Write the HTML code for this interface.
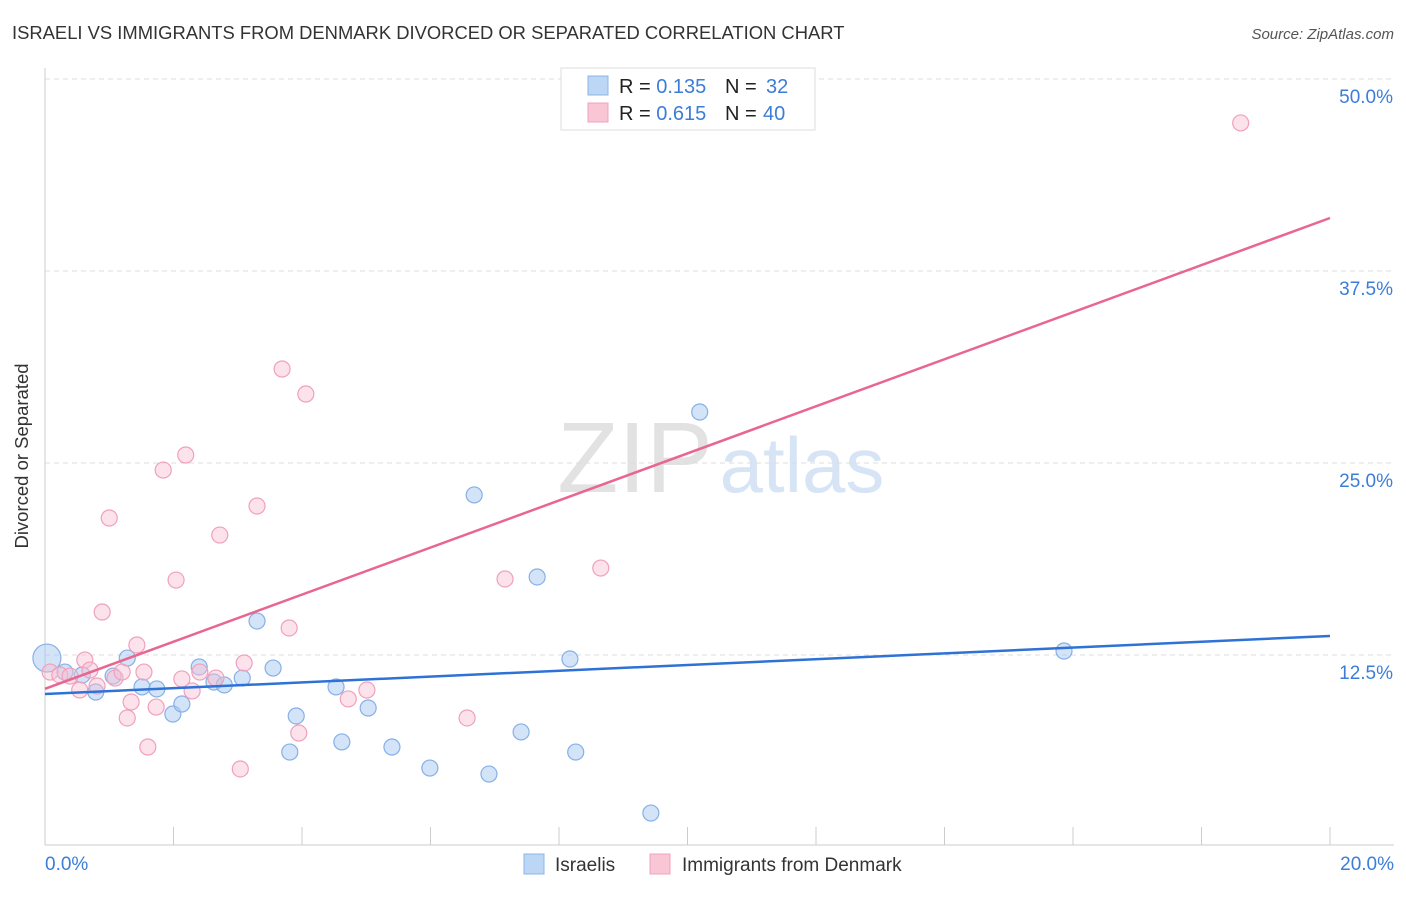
<!DOCTYPE html>
<html><head><meta charset="utf-8"><style>
body{margin:0;background:#fff;font-family:"Liberation Sans",sans-serif;}
svg text{font-family:"Liberation Sans",sans-serif;}
</style></head><body>
<svg id="chart" width="1406" height="892">
<text x="12" y="39" font-size="18.4" fill="#333">ISRAELI VS IMMIGRANTS FROM DENMARK DIVORCED OR SEPARATED CORRELATION CHART</text>
<text x="1394" y="39" font-size="15" fill="#555" font-style="italic" text-anchor="end">Source: ZipAtlas.com</text>
<text x="28" y="456" font-size="18.5" fill="#333" text-anchor="middle" transform="rotate(-90 28 456)">Divorced or Separated</text>
<g><text x="635" y="492" font-size="100" fill="#e2e2e2" font-family="Liberation Serif" text-anchor="middle">ZIP</text><text x="802" y="492" font-size="78" fill="#d6e4f5" text-anchor="middle">atlas</text></g>
<g id="grid"></g><g id="axes"></g><g id="marks"></g>
<g>
<rect x="561" y="68" width="254" height="62" fill="#fff" stroke="#ddd"/>
<rect x="588" y="76" width="20" height="19" fill="#bcd6f5" stroke="#8db5e8"/>
<rect x="588" y="103" width="20" height="19" fill="#f9c6d6" stroke="#f0a0bc"/>
<text x="619" y="93" font-size="20" fill="#222">R = <tspan fill="#3b7dd8">0.135</tspan><tspan x="725">N = </tspan><tspan x="766" fill="#3b7dd8">32</tspan></text>
<text x="619" y="120" font-size="20" fill="#222">R = <tspan fill="#3b7dd8">0.615</tspan><tspan x="725">N = </tspan><tspan x="763" fill="#3b7dd8">40</tspan></text>
</g>
<g>
<rect x="524" y="854" width="20" height="20" fill="#bcd6f5" stroke="#8db5e8"/>
<text x="555" y="871" font-size="19" fill="#333">Israelis</text>
<rect x="650" y="854" width="20" height="20" fill="#f9c6d6" stroke="#f0a0bc"/>
<text x="682" y="871" font-size="19" fill="#333">Immigrants from Denmark</text>
</g>
</svg>
<script>
const yTicks=[12.5,25,37.5,50];
const yTickLabels=["12.5%","25.0%","37.5%","50.0%"];
const blueX=[0.03,0.31,0.58,0.79,1.06,1.28,1.51,1.74,1.99,2.13,2.40,2.63,2.79,3.07,3.30,3.55,3.81,3.91,4.53,4.62,5.03,5.40,5.99,6.68,6.91,7.41,7.66,8.17,8.26,9.43,10.19,15.86];
const blueY=[12.3,11.39,11.2,10.09,11.13,12.3,10.42,10.29,8.66,9.31,11.72,10.74,10.55,11.0,14.71,11.65,6.18,8.53,10.42,6.84,9.05,6.51,5.14,22.92,4.75,7.49,17.58,12.24,6.18,2.21,28.32,12.76];
const pinkX=[0.08,0.23,0.39,0.54,0.62,0.70,0.81,0.89,1.00,1.09,1.20,1.28,1.34,1.43,1.54,1.60,1.73,1.84,2.04,2.13,2.19,2.29,2.41,2.66,2.72,3.04,3.10,3.30,3.69,3.80,3.95,4.06,4.72,5.01,6.57,7.16,8.65,18.61];
const pinkY=[11.39,11.2,11.13,10.22,12.17,11.52,10.48,15.30,21.42,11.0,11.39,8.40,9.44,13.15,11.39,6.51,9.11,24.54,17.38,10.94,25.52,10.16,11.39,11.0,20.31,5.08,11.98,22.2,31.12,14.26,7.42,29.49,9.64,10.22,8.40,17.45,18.16,47.14];
const blueLine=[9.96,13.74];
const pinkLine=[10.3,40.95];
const NS="http://www.w3.org/2000/svg";
const X=v=>45+v*64.25, Y=v=>847-v*15.36;
function mk(tag,attrs,parent){const e=document.createElementNS(NS,tag);for(const k in attrs)e.setAttribute(k,attrs[k]);document.getElementById(parent).appendChild(e);return e;}
yTicks.forEach((t,i)=>{
 const g=mk('line',{x1:45,x2:1394,y1:Y(t),y2:Y(t),stroke:'#ddd','stroke-dasharray':'5,4'},'grid');
 
 
 const l=mk('text',{x:1393,y:Y(t)+24,'font-size':19,fill:'#3b7dd8','text-anchor':'end'},'grid');
 l.textContent=yTickLabels[i];
 
 
});
let ax=mk('line',{x1:45,x2:45,y1:68,y2:845,stroke:'#ccc'},'axes');


ax=mk('line',{x1:45,x2:1394,y1:845,y2:845,stroke:'#ccc'},'axes');


for(let i=0;i<=10;i++){const t=mk('line',{x1:X(i*2),x2:X(i*2),y1:827,y2:845,stroke:'#ccc'},'axes');
 
 }
let xl=mk('text',{x:45,y:870,'font-size':19,fill:'#3b7dd8'},'axes');xl.textContent='0.0%';


xl=mk('text',{x:1394,y:870,'font-size':19,fill:'#3b7dd8','text-anchor':'end'},'axes');xl.textContent='20.0%';


blueX.forEach((x,i)=>{const c=mk('circle',{cx:X(x),cy:Y(blueY[i]),r:i===0?14:8,fill:'rgba(168,200,242,0.5)',stroke:'#86b0e6','stroke-width':1.2},'marks');
 
 });
pinkX.forEach((x,i)=>{const c=mk('circle',{cx:X(x),cy:Y(pinkY[i]),r:8,fill:'rgba(248,190,208,0.45)',stroke:'#f0a0bc','stroke-width':1.2},'marks');
 
 });
let ln=mk('line',{x1:X(0),x2:X(20),y1:Y(blueLine[0]),y2:Y(blueLine[1]),stroke:'#2f72d6','stroke-width':2.5},'marks');


ln=mk('line',{x1:X(0),x2:X(20),y1:Y(pinkLine[0]),y2:Y(pinkLine[1]),stroke:'#e8668f','stroke-width':2.5},'marks');


</script>
</body></html>
